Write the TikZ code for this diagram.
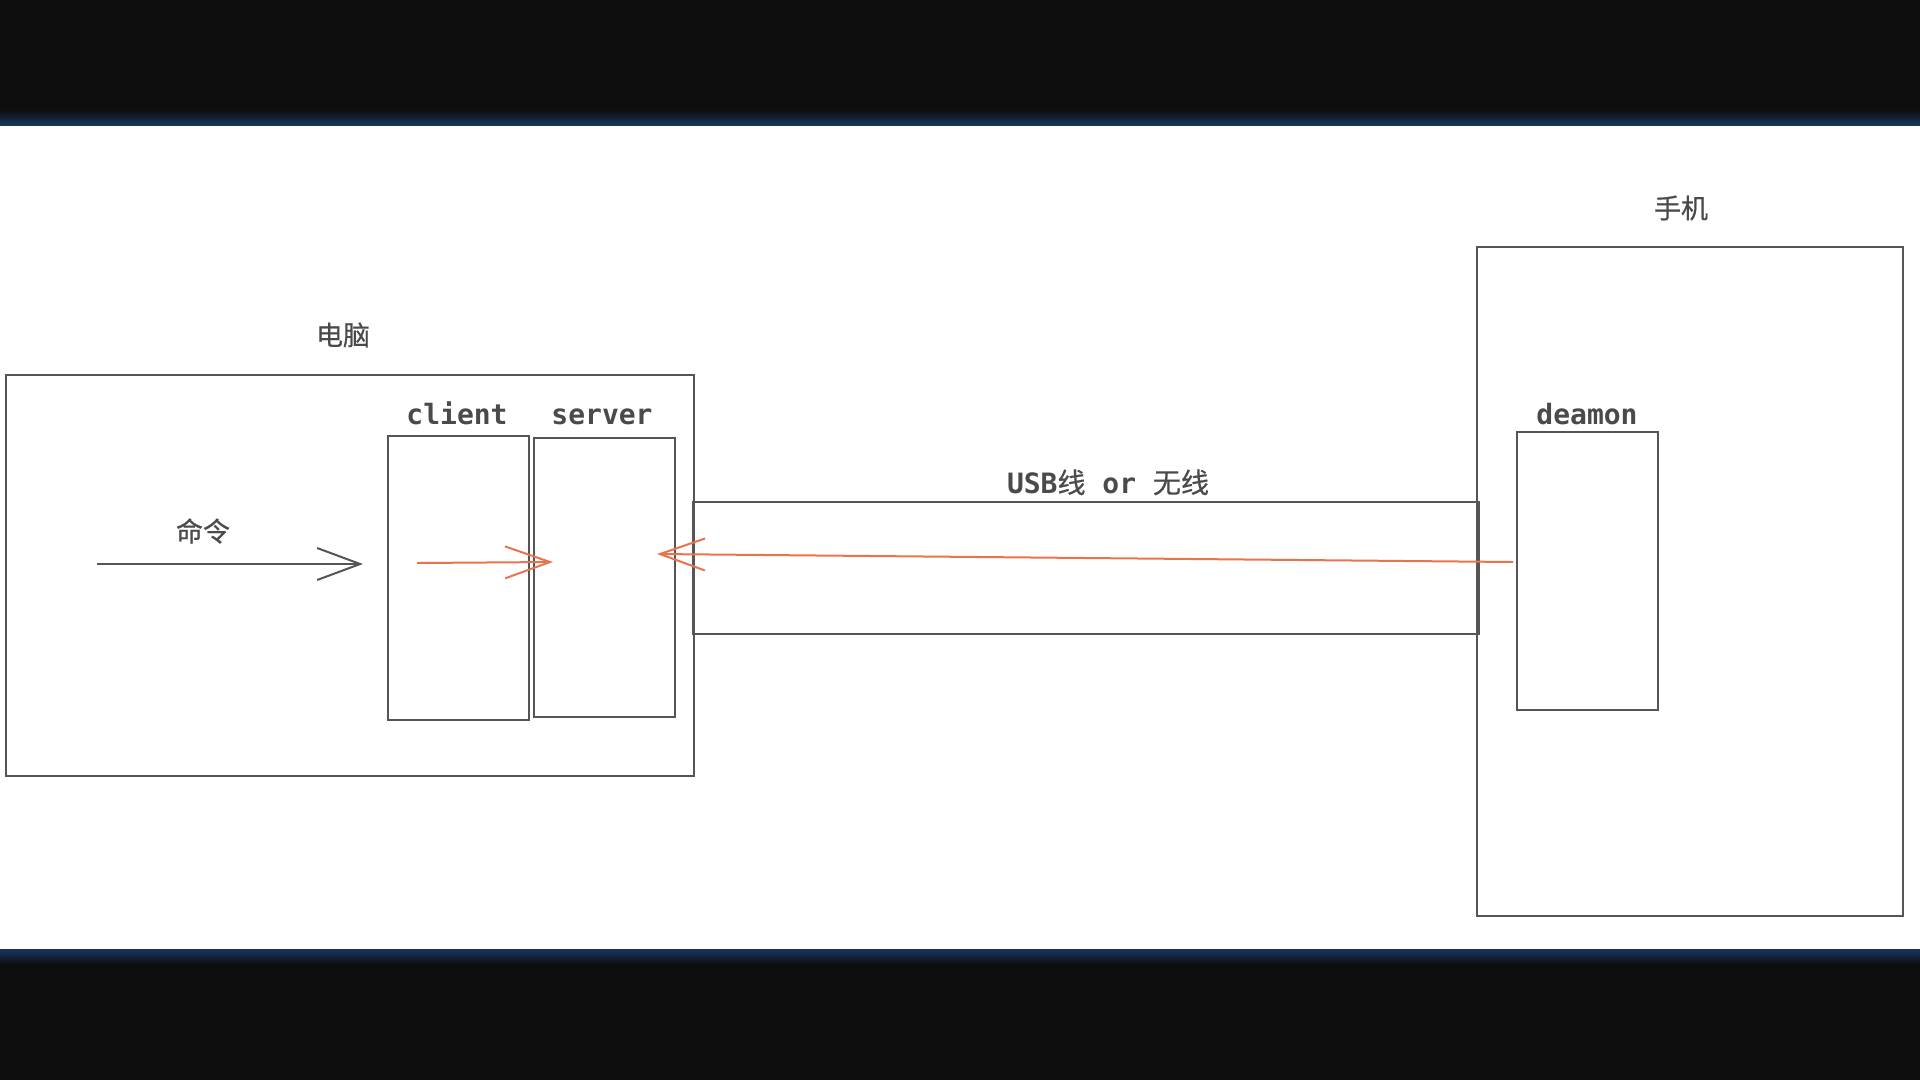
\documentclass[tikz,border=0pt]{standalone}
\usepackage{fontspec}
\setmonofont{DejaVu Sans Mono}
\newfontfamily\cjk[FakeBold=0.6]{Noto Sans CJK SC}
\usetikzlibrary{arrows.meta}
\definecolor{ink}{HTML}{4A4A4A}
\definecolor{edge}{HTML}{555555}
\definecolor{orng}{HTML}{E8744E}
\definecolor{band}{HTML}{0E0E0E}
\definecolor{glow}{HTML}{16365F}
\tikzset{
  box/.style={draw=edge, line width=1.8pt, minimum width=#1, inner sep=0pt},
  lbl/.style={text=ink, font=\fontsize{28}{30}\selectfont\ttfamily\bfseries, inner sep=0pt, anchor=base},
  clbl/.style={text=ink, font=\fontsize{27}{30}\selectfont\cjk, inner sep=0pt},
  blackarrow/.style={draw=edge, line width=2pt, -{Straight Barb[length=43pt,width=32pt,line width=2pt]}},
  redarrow/.style={draw=orng, line width=2pt, -{Straight Barb[length=45pt,width=32pt,line width=2pt]}}
}
\begin{document}
\begin{tikzpicture}[x=1pt,y=-1pt]
\useasboundingbox (0,0) rectangle (1920,1080);
\fill[white] (0,0) rectangle (1920,1080);
% dark bands
\fill[band] (0,0) rectangle (1920,110);
\shade[top color=band, bottom color=glow] (0,110) rectangle (1920,125);
\fill[band] (0,964) rectangle (1920,1080);
\shade[top color=glow, bottom color=band] (0,949) rectangle (1920,964);

% boxes
\node[box=688pt, minimum height=401pt] (pc) at (350,575.5) {};
\node[box=141pt, minimum height=284pt] (client) at (458.5,578) {};
\node[box=141pt, minimum height=279pt] (server) at (604.5,577.5) {};
\node[box=786pt, minimum height=132pt] (tube) at (1086,568) {};
\node[box=426pt, minimum height=669pt] (phone) at (1690,581.5) {};
\node[box=141pt, minimum height=278pt] (deamon) at (1587.5,571) {};

% labels
\node[clbl] (pclbl) at (343,335) {电脑};
\node[lbl] (clientlbl) at (457,424) {client};
\node[lbl] (serverlbl) at (602,424) {server};
\node[clbl] (cmdlbl) at (203,531) {命令};
\node[lbl] (usblbl) at (1108,493) {USB{\cjk\mdseries 线} or {\cjk\mdseries 无线}};
\node[lbl] (deamonlbl) at (1587,424) {deamon};
\node[clbl] (phonelbl) at (1681,208) {手机};

% arrows
\coordinate (cmdA) at (97,564);
\coordinate (cmdB) at (363,564);
\coordinate (cA) at (417,563);
\coordinate (cB) at (553,562);
\coordinate (dA) at (1513,562);
\coordinate (sB) at (657,554);
\draw[blackarrow] (cmdA) -- (cmdB);
\draw[redarrow] (cA) -- (cB);
\draw[redarrow] (dA) -- (sB);
\end{tikzpicture}
\end{document}
